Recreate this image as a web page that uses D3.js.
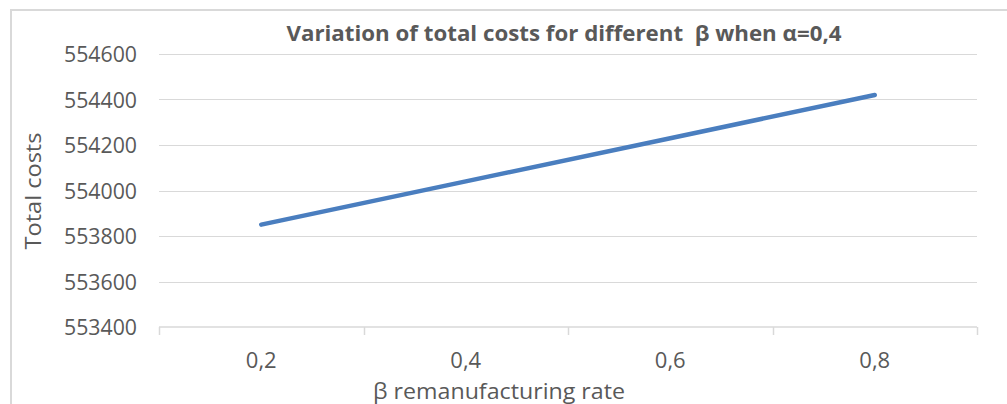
<!DOCTYPE html>
<html>
<head>
<meta charset="utf-8">
<script src="https://cdn.jsdelivr.net/npm/d3@7"></script>
<style>
  html, body { margin: 0; padding: 0; background: #fff; }
  svg { display: block; }
  text { font-family: "Open Sans", "Liberation Sans", sans-serif; fill: #595959; }
</style>
</head>
<body>
<div id="chart"></div>
<script>
const categories = ["0,2", "0,4", "0,6", "0,8"];
const totalCosts = [553850, 554040, 554230, 554420];
const yTicks = [553400, 553600, 553800, 554000, 554200, 554400, 554600];
const titleText = "Variation of total costs for different  β when α=0,4";
const xTitle = "β remanufacturing rate";
const yTitle = "Total costs";

const W = 1007, H = 404;
const plot = { left: 159, right: 977, top: 54, bottom: 327 };
const FONT = "Open Sans, Liberation Sans, sans-serif";

const svg = d3.select("#chart").append("svg")
  .attr("width", W).attr("height", H);

// outer chart frame
svg.append("rect")
  .attr("x", 11).attr("y", 10)
  .attr("width", W + 20).attr("height", H + 20)
  .attr("fill", "none").attr("stroke", "#d9d9d9").attr("stroke-width", 2);

const x = d3.scaleBand().domain(categories).range([plot.left, plot.right]).padding(0);
const y = d3.scaleLinear().domain([553400, 554600]).range([plot.bottom, plot.top]);

// gridlines
svg.append("g").selectAll("line")
  .data(yTicks.slice(1))
  .join("line")
  .attr("x1", plot.left).attr("x2", plot.right)
  .attr("y1", d => Math.round(y(d)) + 0.5).attr("y2", d => Math.round(y(d)) + 0.5)
  .attr("stroke", "#d9d9d9").attr("stroke-width", 1);

// y axis labels
const yAxis = d3.axisLeft(y).tickValues(yTicks).tickSize(0).tickPadding(22)
  .tickFormat(d => String(d));
const gy = svg.append("g").attr("transform", `translate(${plot.left},0)`).call(yAxis);
gy.select(".domain").remove();
gy.selectAll("text")
  .attr("font-size", 21)
  .attr("font-family", FONT)
  .attr("fill", "#595959")
  .attr("textLength", 73).attr("lengthAdjust", "spacingAndGlyphs")
  .attr("dy", "0.37em");

// x axis
const xAxis = d3.axisBottom(x).tickSize(0).tickPadding(25);
const gx = svg.append("g").attr("transform", `translate(0,${plot.bottom})`).call(xAxis);
gx.select(".domain").attr("stroke", "#d9d9d9").attr("stroke-width", 1.5)
  .attr("d", `M${plot.left},0H${plot.right}`);
gx.selectAll("text")
  .attr("font-size", 22)
  .attr("font-family", FONT)
  .attr("fill", "#595959");
// category boundary ticks
const edges = categories.map(c => x(c)).concat([x(categories[categories.length - 1]) + x.bandwidth()]);
svg.append("g").selectAll("line")
  .data(edges)
  .join("line")
  .attr("x1", d => Math.round(d) + 0.5).attr("x2", d => Math.round(d) + 0.5)
  .attr("y1", plot.bottom).attr("y2", plot.bottom + 8)
  .attr("stroke", "#d9d9d9").attr("stroke-width", 1.5);

// line
const line = d3.line()
  .x((d, i) => x(categories[i]) + x.bandwidth() / 2)
  .y(d => y(d));
svg.append("path")
  .datum(totalCosts)
  .attr("d", line)
  .attr("fill", "none")
  .attr("stroke", "#4a7ebf")
  .attr("stroke-width", 4.5)
  .attr("stroke-linecap", "round")
  .attr("stroke-linejoin", "round");

// title
svg.append("text")
  .attr("x", 564).attr("y", 41)
  .attr("text-anchor", "middle")
  .attr("font-size", 22).attr("font-weight", "bold")
  .attr("textLength", 555).attr("lengthAdjust", "spacingAndGlyphs")
  .style("white-space", "pre")
  .text(titleText);

// x title
svg.append("text")
  .attr("x", 499).attr("y", 399)
  .attr("text-anchor", "middle")
  .attr("font-size", 22)
  .attr("textLength", 252).attr("lengthAdjust", "spacingAndGlyphs")
  .text(xTitle);

// y title
svg.append("text")
  .attr("transform", "translate(41,191) rotate(-90)")
  .attr("text-anchor", "middle")
  .attr("font-size", 22)
  .attr("textLength", 117).attr("lengthAdjust", "spacingAndGlyphs")
  .text(yTitle);
</script>
</body>
</html>
